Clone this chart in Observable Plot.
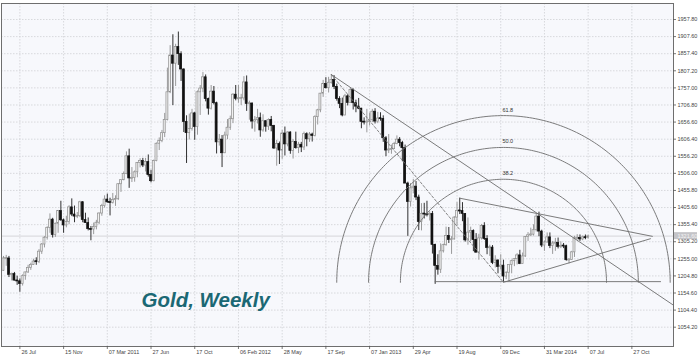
<!DOCTYPE html>
<html><head><meta charset="utf-8">
<script src="https://cdn.jsdelivr.net/npm/d3@7"></script>
<script src="https://cdn.jsdelivr.net/npm/@observablehq/plot@0.6"></script>
<style>
html,body{margin:0;padding:0;background:#fff;}
#chart svg{display:block;}
</style>
</head><body><div id="chart"></div>
<script>
// Weekly gold candles (bar index 0 = week of 14 Jun 2010)
const opens = [
1220,1256,1256,1208,1210,1191,1189,1181,1204,1215,
1228,1237,1247,1246,1276,1297,1317,1346,1370,1325,
1358,1395,1368,1353,1363,1406,1385,1379,1380,1421,
1369,1360,1342,1341,1348,1361,1388,1410,1429,1421,
1419,1428,1430,1474,1486,1504,1556,1491,1492,1509,
1536,1542,1529,1539,1501,1483,1542,1593,1601,1624,
1663,1744,1852,1828,1877,1856,1811,1657,1624,1636,
1682,1642,1744,1755,1788,1724,1696,1746,1712,1597,
1605,1565,1617,1640,1665,1737,1725,1725,1726,1773,
1710,1711,1658,1662,1668,1632,1659,1643,1663,1645,
1579,1592,1573,1623,1591,1626,1572,1598,1580,1590,
1582,1621,1606,1620,1616,1671,1691,1740,1768,1756,
1772,1780,1760,1724,1710,1676,1732,1713,1751,1712,
1702,1696,1657,1656,1657,1662,1687,1658,1667,1666,
1609,1573,1576,1577,1592,1605,1595,1580,1476,1422,
1462,1467,1435,1363,1387,1386,1383,1387,1296,1234,
1223,1277,1295,1322,1310,1312,1376,1396,1395,1387,
1309,1332,1337,1310,1273,1315,1351,1313,1287,1288,
1243,1250,1231,1235,1203,1214,1237,1248,1254,1265,
1240,1262,1319,1324,1326,1339,1379,1335,1294,1303,
1318,1293,1300,1302,1290,1293,1292,1251,1252,1274,
1315,1316,1312,1318,1316
];
const highs = [
1262,1265,1262,1213,1215,1204,1196,1208,1216,1236,
1242,1254,1258,1282,1300,1320,1349,1387,1374,1360,
1397,1424,1372,1380,1411,1431,1410,1391,1424,1423,
1389,1375,1350,1360,1368,1390,1415,1440,1445,1433,
1447,1440,1476,1487,1510,1569,1577,1523,1513,1538,
1549,1550,1550,1560,1515,1545,1595,1610,1632,1682,
1815,1881,1913,1885,1921,1863,1813,1675,1680,1694,
1685,1748,1764,1802,1795,1727,1764,1761,1715,1620,
1617,1627,1664,1674,1740,1764,1764,1738,1790,1792,
1718,1713,1673,1694,1683,1678,1661,1666,1673,1647,
1603,1598,1632,1642,1628,1628,1605,1627,1597,1597,
1627,1625,1626,1624,1675,1694,1741,1779,1787,1788,
1796,1793,1768,1731,1727,1738,1737,1755,1754,1721,
1726,1697,1669,1694,1683,1694,1696,1685,1684,1675,
1614,1620,1589,1597,1616,1611,1600,1589,1480,1476,
1488,1482,1442,1417,1418,1424,1393,1394,1298,1267,
1299,1298,1348,1347,1320,1379,1420,1433,1420,1388,
1375,1348,1340,1329,1327,1356,1361,1323,1295,1294,
1264,1252,1267,1251,1217,1238,1251,1256,1270,1280,
1272,1320,1332,1345,1355,1385,1392,1339,1307,1331,
1331,1306,1315,1316,1305,1300,1295,1255,1277,1321,
1326,1325,1322,1325,1324
];
const lows = [
1218,1233,1200,1190,1190,1177,1157,1175,1192,1212,
1221,1236,1236,1241,1268,1287,1310,1330,1316,1318,
1330,1365,1330,1346,1355,1379,1361,1373,1376,1361,
1359,1337,1308,1326,1340,1355,1380,1404,1418,1381,
1416,1409,1426,1450,1484,1502,1462,1479,1480,1493,
1522,1523,1510,1495,1478,1481,1540,1573,1596,1611,
1660,1740,1705,1761,1823,1776,1626,1535,1604,1630,
1603,1618,1676,1743,1716,1677,1692,1707,1563,1586,
1523,1564,1605,1632,1652,1719,1712,1705,1719,1688,
1662,1636,1627,1651,1612,1627,1627,1632,1628,1576,
1527,1532,1547,1557,1584,1562,1548,1577,1564,1567,
1573,1584,1597,1598,1613,1648,1684,1729,1754,1742,
1768,1752,1718,1696,1672,1675,1704,1712,1692,1684,
1693,1637,1648,1625,1645,1655,1651,1652,1659,1597,
1555,1564,1562,1576,1590,1584,1540,1475,1321,1407,
1446,1426,1338,1337,1372,1378,1366,1269,1180,1207,
1212,1272,1292,1300,1268,1310,1351,1385,1364,1304,
1295,1305,1276,1272,1251,1310,1309,1267,1262,1238,
1228,1211,1222,1186,1194,1188,1211,1232,1237,1238,
1240,1259,1306,1321,1322,1334,1320,1288,1277,1301,
1285,1268,1277,1284,1285,1285,1248,1240,1251,1259,
1310,1306,1308,1311,1313
];
const closes = [
1256,1256,1208,1210,1191,1189,1181,1204,1215,1228,
1237,1247,1246,1276,1297,1317,1346,1370,1325,1358,
1395,1368,1353,1363,1406,1385,1379,1380,1421,1369,
1360,1342,1341,1348,1361,1388,1410,1429,1421,1419,
1428,1430,1474,1486,1504,1556,1491,1492,1509,1536,
1542,1529,1539,1501,1483,1542,1593,1601,1624,1663,
1744,1852,1828,1877,1856,1811,1657,1624,1636,1682,
1642,1744,1755,1788,1724,1696,1746,1712,1597,1605,
1565,1617,1640,1665,1737,1725,1725,1726,1773,1710,
1711,1658,1662,1668,1632,1659,1643,1663,1645,1579,
1592,1573,1623,1591,1626,1572,1598,1580,1590,1582,
1621,1606,1620,1616,1671,1691,1740,1768,1756,1772,
1780,1760,1724,1710,1676,1732,1713,1751,1712,1702,
1696,1657,1656,1657,1662,1687,1658,1667,1666,1609,
1573,1576,1577,1592,1605,1595,1580,1476,1422,1462,
1467,1435,1363,1387,1386,1383,1387,1296,1234,1223,
1277,1295,1322,1310,1312,1376,1396,1395,1387,1309,
1332,1337,1310,1273,1315,1351,1313,1287,1288,1243,
1250,1231,1235,1203,1214,1237,1248,1254,1265,1240,
1262,1319,1324,1326,1339,1379,1335,1294,1303,1318,
1293,1300,1302,1290,1293,1292,1251,1252,1274,1315,
1316,1312,1318,1316,1321
];

const dateTickIndex = [6,22,38,54,70,86,102,118,134,150,166,182,198,214,230];
const dateTickLabels = ["26 Jul","15 Nov","07 Mar 2011","27 Jun","17 Oct","06 Feb 2012","28 May","17 Sep","07 Jan 2013","29 Apr","19 Aug","09 Dec","31 Mar 2014","07 Jul","27 Oct"];
const priceTicks = [1054.20,1104.40,1154.60,1204.80,1255.00,1305.20,1355.40,1405.60,1455.80,1506.00,1556.20,1606.40,1656.60,1706.80,1757.00,1807.20,1857.40,1907.60,1957.80];
const currentPrice = 1321.60;

// drawn objects (anchors: bar index, price)
const fibLevels = [38.2, 50.0, 61.8];
const fibFrom = [120, 1796];
const fibTo = [183, 1186];
const trendRay = [[120, 1796], [196, 1385]];
const triangleUpper = [[167, 1433], [237.5, 1321]];
const triangleLower = [[183, 1186], [236.8, 1314]];
const baseLine = [[158, 1188], [240.5, 1188]];
const title = "Gold, Weekly";

// layout
const W = 700, H = 356;
const mL = 1, mR = 27, mT = 3, mB = 10;
const xDom = [-0.73, 245.24];
const yDom = [997.5, 2004.8];
const kx = (W - mL - mR) / (xDom[1] - xDom[0]);   // px per bar
const ky = (H - mT - mB) / (yDom[1] - yDom[0]);   // px per price unit

const bars = opens.map((o, i) => ({i, o, h: highs[i], l: lows[i], c: closes[i], up: closes[i] >= o}));
bars.forEach(b => {
  const lo = Math.min(b.o, b.c), hi = Math.max(b.o, b.c);
  const minH = 1 / ky;
  if (hi - lo < minH) { const m = (hi + lo) / 2; b.b1 = m - minH / 2; b.b2 = m + minH / 2; }
  else { b.b1 = lo; b.b2 = hi; }
});

// ray extended to right edge
const [r0, r1] = trendRay;
const slope = (r1[1] - r0[1]) / (r1[0] - r0[0]);
const rayPts = [{x: r0[0], y: r0[1]}, {x: xDom[1], y: r0[1] + slope * (xDom[1] - r0[0])}];

// fibonacci arcs (circles in screen space around fibTo)
const dist = Math.hypot((fibFrom[0] - fibTo[0]) * kx, (fibFrom[1] - fibTo[1]) * ky);
const arcPts = [];
fibLevels.forEach(lv => {
  const r = dist * lv / 100;
  for (let k = 0; k <= 180; k++) {
    const t = Math.PI * k / 180;
    arcPts.push({lv, x: fibTo[0] + r * Math.cos(t) / kx, y: fibTo[1] + r * Math.sin(t) / ky});
  }
});
const arcLabels = fibLevels.map(lv => ({lv, x: fibTo[0] + 1.6, y: fibTo[1] + dist * lv / 100 / ky}));

const seg = (pts) => pts.map(p => ({x: p[0], y: p[1]}));
const lineStyle = {x: "x", y: "y", stroke: "#6d6d6d", strokeWidth: 0.9};
const font = "Liberation Sans, Arial, sans-serif";

const chart = Plot.plot({
  width: W, height: H,
  marginLeft: mL, marginRight: mR, marginTop: mT, marginBottom: mB,
  style: {background: "#ffffff", fontFamily: font, overflow: "visible"},
  x: {type: "linear", domain: xDom, axis: null},
  y: {type: "linear", domain: yDom, axis: null},
  marks: [
    Plot.frame({fill: "#f7f8fc", stroke: null}),
    Plot.ruleY(priceTicks, {stroke: "#cfd0d4", strokeWidth: 0.8, strokeDasharray: "1.5,1.5"}),
    Plot.ruleX(dateTickIndex, {stroke: "#cfd0d4", strokeWidth: 0.8, strokeDasharray: "1.5,1.5"}),
    Plot.ruleY([currentPrice], {stroke: "#dcdce0", strokeWidth: 1.2}),
    // candles
    Plot.ruleX(bars, {x: "i", y1: "l", y2: "h", stroke: d => d.up ? "#8e8e8e" : "#1a1a1a", strokeWidth: 0.9}),
    Plot.rect(bars, {x1: d => d.i - 0.36, x2: d => d.i + 0.36, y1: "b1", y2: "b2",
      fill: d => d.up ? "#f0f0f0" : "#111111", stroke: d => d.up ? "#8e8e8e" : "#111111", strokeWidth: 0.7}),
    // drawn objects
    Plot.line(arcPts, {x: "x", y: "y", z: "lv", stroke: "#6d6d6d", strokeWidth: 0.9}),
    Plot.text(arcLabels, {x: "x", y: "y", text: d => d.lv.toFixed(1), dy: -4, fontSize: 5.5, fill: "#333", lineAnchor: "bottom"}),
    Plot.line(seg([fibFrom, fibTo]), {...lineStyle, strokeDasharray: "2.5,2", stroke: "#777"}),
    Plot.line(rayPts, lineStyle),
    Plot.line(seg(triangleUpper), lineStyle),
    Plot.line(seg(triangleLower), lineStyle),
    Plot.line(seg(baseLine), lineStyle),
    // frame
    Plot.frame({stroke: "#6e6e6e", strokeWidth: 1}),
    // right axis
    Plot.ruleY(priceTicks, {x1: xDom[1], x2: xDom[1] + 3 / kx, stroke: "#555", strokeWidth: 0.8}),
    Plot.text(priceTicks, {x: xDom[1], y: d => d, text: d => d.toFixed(2), dx: 4, textAnchor: "start", fontSize: 5.5, fill: "#444"}),
    Plot.rect([currentPrice], {x1: xDom[1] + 1 / kx, x2: xDom[1] + 24 / kx, y1: d => d - 3.5 / ky, y2: d => d + 3.5 / ky, fill: "#c4c4c8"}),
    Plot.text([currentPrice], {x: xDom[1], y: d => d, text: d => d.toFixed(2), dx: 4, textAnchor: "start", fontSize: 5.5, fill: "#f4f4f4"}),
    // bottom axis
    Plot.ruleX(dateTickIndex, {y1: yDom[0], y2: yDom[0] - 3 / ky, stroke: "#555", strokeWidth: 0.8}),
    Plot.text(dateTickIndex, {x: d => d, y: yDom[0], text: (d, i) => dateTickLabels[i], dy: 5.5, dx: 1.5, textAnchor: "start", fontSize: 5.5, fill: "#444"}),
    // title
    Plot.text([title], {frameAnchor: "bottom-left", dx: 140, dy: -39.5, lineAnchor: "bottom", textAnchor: "start",
      fontSize: 20.5, fontWeight: "bold", fontStyle: "italic", fill: "#1b6874", fontFamily: font})
  ]
});
document.getElementById("chart").appendChild(chart);
</script>
</body></html>
